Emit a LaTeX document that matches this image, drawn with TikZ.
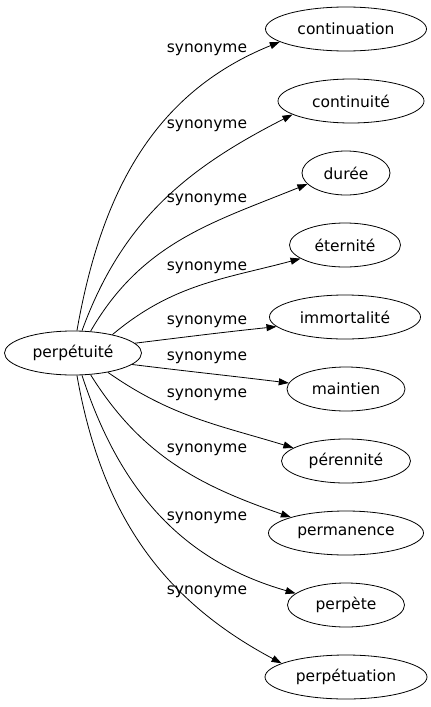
\documentclass[tikz,border=0pt]{standalone}
\usepackage{fontspec}
\setmainfont{DejaVu Sans}
\usetikzlibrary{arrows.meta}
\usetikzlibrary{shapes.geometric}

\begin{document}
\begin{tikzpicture}[x=1pt,y=1pt]
            \tikzstyle{myEll}=[ellipse,draw,line width=0.8pt,inner xsep=2pt,inner ysep=2pt,minimum height=44pt,font=\fontsize{15.5}{18}\selectfont];
            \tikzstyle{myLab}=[anchor=base,inner sep=0pt,font=\fontsize{15.5}{18}\selectfont];
            \tikzstyle{myArr}=[line width=0.8pt,-{Triangle[length=10pt,width=7pt]}];
            \useasboundingbox (0,0) rectangle (431,-707);
            \node[myEll,minimum width=137pt] (perpetuite) at (73,-353) {perpétuité};
            \node[myEll,minimum width=161pt] (continuation) at (346,-29) {continuation};
            \node[myEll,minimum width=146pt] (continuite) at (351,-101) {continuité};
            \node[myEll,minimum width=88pt] (duree) at (346,-173) {durée};
            \node[myEll,minimum width=111pt] (eternite) at (345,-245) {éternité};
            \node[myEll,minimum width=151pt] (immortalite) at (345,-317) {immortalité};
            \node[myEll,minimum width=118pt] (maintien) at (346,-389) {maintien};
            \node[myEll,minimum width=129pt] (perennite) at (346,-461) {pérennité};
            \node[myEll,minimum width=155pt] (permanence) at (346,-533) {permanence};
            \node[myEll,minimum width=117pt] (perpete) at (346,-605) {perpète};
            \node[myEll,minimum width=162pt] (perpetuation) at (346,-677) {perpétuation};
            % synonyme labels
            \node[myLab] (s1) at (207,-52.5) {synonyme};
            \node[myLab] (s2) at (207,-128.5) {synonyme};
            \node[myLab] (s3) at (207,-202.5) {synonyme};
            \node[myLab] (s4) at (207,-270.5) {synonyme};
            \node[myLab] (s5) at (207,-324.5) {synonyme};
            \node[myLab] (s6) at (207,-360.5) {synonyme};
            \node[myLab] (s7) at (207,-397.5) {synonyme};
            \node[myLab] (s8) at (207,-452.5) {synonyme};
            \node[myLab] (s9) at (207,-520.5) {synonyme};
            \node[myLab] (s10) at (207,-594.5) {synonyme};
            % edges
            \draw[myArr] (perpetuite.80) to[out=80,in=202] (continuation.191);
            \draw[myArr] (perpetuite.68) to[out=70,in=207] (continuite.193);
            \draw[myArr] (perpetuite.51) to[out=60,in=202] (duree.196);
            \draw[myArr] (perpetuite.25) to[out=40,in=195] (eternite.197);
            \draw[myArr] (perpetuite.9) to[out=7,in=186] (immortalite.188);
            \draw[myArr] (perpetuite.349) to[out=353,in=173] (maintien.174);
            \draw[myArr] (perpetuite.331) to[out=325,in=163] (perennite.166);
            \draw[myArr] (perpetuite.309) to[out=302,in=161] (permanence.164);
            \draw[myArr] (perpetuite.292) to[out=288,in=164] (perpete.167);
            \draw[myArr] (perpetuite.280) to[out=280,in=152] (perpetuation.168);
         \end{tikzpicture}
\end{document}
